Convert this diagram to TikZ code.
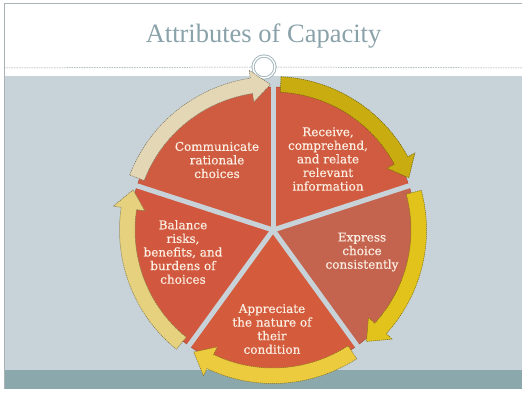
\documentclass[tikz,border=0pt]{standalone}
\usepackage{fontspec}
\setmainfont{DejaVu Serif}
\newfontfamily\titlefont{Liberation Serif}
\newfontfamily\segfont[FakeBold=0.5]{DejaVu Serif}

\definecolor{slidebg}{HTML}{C7D3D9}
\definecolor{footband}{HTML}{8BA8AC}
\definecolor{slideline}{HTML}{A9B2B5}
\definecolor{dashcol}{HTML}{8F9FA5}
\definecolor{knobcol}{HTML}{9FB3BA}
\definecolor{titlecol}{HTML}{8AA2A9}
\definecolor{labeltext}{HTML}{FBEDE1}
\definecolor{sectorline}{HTML}{A8402B}
\definecolor{secReceive}{HTML}{D15B40}
\definecolor{secExpress}{HTML}{C4644F}
\definecolor{secAppreciate}{HTML}{D45B3C}
\definecolor{secBalance}{HTML}{D1583E}
\definecolor{secCommunicate}{HTML}{CF5B41}
\definecolor{arrReceive}{HTML}{C8AC10}
\definecolor{arrExpress}{HTML}{E2C31C}
\definecolor{arrAppreciate}{HTML}{ECCB3E}
\definecolor{arrBalance}{HTML}{E6D17E}
\definecolor{arrCommunicate}{HTML}{E3D7B5}

\begin{document}
\begin{tikzpicture}[x=1pt,y=1pt,
	sector/.style={draw=sectorline, line width=0.4pt},
	stitch/.style={line width=0.5pt, dash pattern=on 1.2pt off 0.8pt},
	capacity/.style={text=labeltext, align=center, inner sep=0pt,
		font=\segfont\fontsize{12}{13.6}\selectfont}]
	% slide
	\fill[white] (0,0) rectangle (522,392);
	\useasboundingbox (0,0) rectangle (522,392);
	\fill[slidebg] (4,3) rectangle (522,316);
	\fill[footband] (4,3) rectangle (522,22);
	\draw[slideline, line width=0.6pt] (4,3) -- (4,389) -- (522,389);
	\node[font=\titlefont\fontsize{26.5}{26.5}\selectfont, text=titlecol, anchor=base] (title) at (263.5,349) {Attributes of Capacity};
	\coordinate (dashL) at (4,324);
	\coordinate (dashR) at (522,324);
	\node[circle, draw=knobcol, double=white, double distance=1.4pt, line width=0.9pt, minimum size=22pt, inner sep=0pt] (knob) at (264,325) {};
	\draw[dashcol, line width=0.5pt, dash pattern=on 1.5pt off 1pt] (dashL) -- (knob.west);
	\draw[dashcol, line width=0.5pt, dash pattern=on 1.5pt off 1pt] (knob.east) -- (dashR);
	
	\begin{scope}[shift={(273,162)}]
		% pie
		\filldraw[sector, fill=secReceive] (0,0) -- (90:143) arc[start angle=90, end angle=18, radius=143] -- cycle;
		\filldraw[sector, fill=secExpress] (0,0) -- (18:143) arc[start angle=18, end angle=-54, radius=143] -- cycle;
		\filldraw[sector, fill=secAppreciate] (0,0) -- (-54:143) arc[start angle=-54, end angle=-126, radius=143] -- cycle;
		\filldraw[sector, fill=secBalance] (0,0) -- (234:143) arc[start angle=234, end angle=162, radius=143] -- cycle;
		\filldraw[sector, fill=secCommunicate] (0,0) -- (162:143) arc[start angle=162, end angle=90, radius=143] -- cycle;
		\foreach \a in {90,18,-54,-126,162}
			\draw[slidebg, line width=5pt] (0,0) -- (\a:145);
		
		% arrows round the pie
		\foreach \s/\t/\c in {87/21/arrReceive, 15/-50/arrExpress, -57/-123/arrAppreciate, 231/164/arrBalance, 159/91/arrCommunicate}{
			\pgfmathsetmacro{\h}{\t+7.5}
			\filldraw[stitch, fill=\c, draw=\c!55!black] (\s:153.5) arc[start angle=\s, end angle=\h, radius=153.5]
				-- (\h:161.5) -- (\t:145.5) -- (\h:129.5) -- (\h:138)
				arc[start angle=\h, end angle=\s, radius=138] -- cycle;
		}
		
		\node[capacity] (receive) at (55,71) {Receive,\\comprehend,\\and relate\\relevant\\information};
		\node[capacity] (express) at (89,-22) {Express\\choice\\consistently};
		\node[capacity] (appreciate) at (-1,-99) {Appreciate\\the nature of\\their\\condition};
		\node[capacity] (balance) at (-90,-22) {Balance\\risks,\\benefits, and\\burdens of\\choices};
		\node[capacity] (communicate) at (-56,70) {Communicate\\rationale\\choices};
	\end{scope}
\end{tikzpicture}
\end{document}
